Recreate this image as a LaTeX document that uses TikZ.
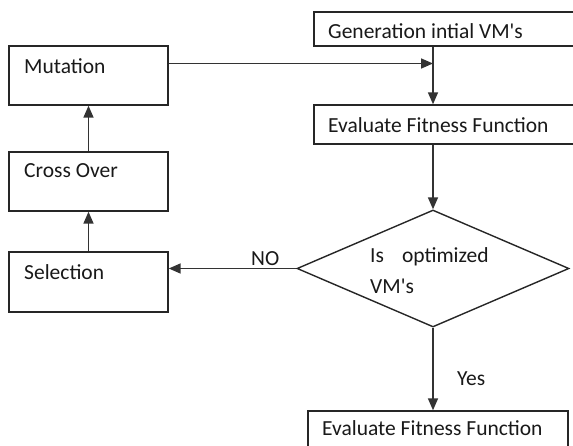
\documentclass[tikz,border=0pt]{standalone}
\usepackage{fontspec}
\setmainfont{Carlito}[Ligatures=TeXOff]
\usetikzlibrary{shapes.geometric,arrows.meta}
\begin{document}
\begin{tikzpicture}[x=1pt,y=-1pt,
  box/.style={draw=black!85,line width=1.4pt,rectangle,inner sep=0pt,anchor=center},
  txt/.style={anchor=west,inner sep=0pt,font=\fontsize{21.5}{23}\selectfont,text=black!90},
  conn/.style={draw=black!80,line width=1.6pt,-{Triangle[length=12pt,width=10pt]}}]
\useasboundingbox (0,0) rectangle (573,446);
\clip (0,0) rectangle (573,446);
\fill[white] (0,0) rectangle (573,446);
% boxes
\node[box,minimum width=286pt,minimum height=34pt] (gen) at (457,29) {};
\node[box,minimum width=286pt,minimum height=39pt] (eval) at (457,124.5) {};
\node[box,minimum width=159pt,minimum height=59pt] (mut) at (88.5,75.5) {};
\node[box,minimum width=159pt,minimum height=59pt] (cross) at (88.5,181.5) {};
\node[box,minimum width=159pt,minimum height=60pt] (sel) at (88.5,282) {};
\node[box,diamond,minimum width=272pt,minimum height=117pt] (dia) at (433,268.5) {};
\node[box,minimum width=260pt,minimum height=59pt] (fin) at (438,440.5) {};
% texts
\node[txt] (genT) at (328,31) {Generation intial VM's};
\node[txt] (evalT) at (328,125) {Evaluate Fitness Function};
\node[txt] (mutT) at (24,66) {Mutation};
\node[txt] (crossT) at (24,171) {Cross Over};
\node[txt] (selT) at (24,272) {Selection};
\node[txt] (diaT1) at (370,257) {Is\hspace{18pt}optimized};
\node[txt] (diaT2) at (370,286) {VM's};
\node[txt] (finT) at (322,428) {Evaluate Fitness Function};
\node[txt] (noT) at (251,259) {NO};
\node[txt] (yesT) at (457,379) {Yes};
% connectors
\coordinate (mutout) at ([yshift=12pt]mut.east);
\draw[conn] (gen.south -| dia.north) -- (eval.north -| dia.north);
\draw[conn] (mutout) -- (mutout -| dia.north);
\draw[conn] (eval.south -| dia.north) -- (dia.north);
\draw[conn] (dia.west) -- (dia.west -| sel.east);
\draw[conn] (cross.north) -- (mut.south);
\draw[conn] (sel.north) -- (cross.south);
\draw[conn] (dia.south) -- (fin.north -| dia.south);
\end{tikzpicture}
\end{document}
